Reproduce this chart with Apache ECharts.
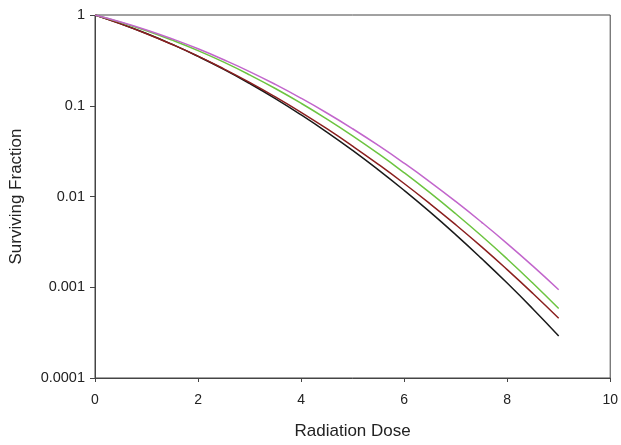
<!DOCTYPE html>
<html>
<head>
<meta charset="utf-8">
<script src="https://cdn.jsdelivr.net/npm/echarts@6/dist/echarts.min.js"></script>
<style>
html,body{margin:0;padding:0;background:#fff;}
#chart{width:621px;height:445px;}
</style>
</head>
<body>
<div id="chart"></div>
<script>
const doses = [0,0.5,1,1.5,2,2.5,3,3.5,4,4.5,5,5.5,6,6.5,7,7.5,8,8.5,9];
const blackSF  = [1,0.801,0.625,0.474,0.350,0.252,0.1762,0.1200,0.0795,0.0513,0.0322,0.01965,0.01168,0.00676,0.00380,0.00208,0.001112,0.000577,0.000291];
const redSF    = [1,0.798,0.622,0.473,0.352,0.255,0.1808,0.1251,0.0846,0.0558,0.0359,0.0226,0.01390,0.00834,0.00489,0.00280,0.001563,0.000853,0.000455];
const greenSF  = [1,0.830,0.671,0.528,0.405,0.302,0.219,0.1549,0.1066,0.0714,0.0466,0.0296,0.0183,0.01102,0.00646,0.00369,0.00205,0.001108,0.000583];
const purpleSF = [1,0.837,0.684,0.545,0.424,0.321,0.238,0.1718,0.1210,0.0832,0.0558,0.0365,0.0233,0.01452,0.00882,0.00523,0.00303,0.00171,0.000940];
const yTickLabels = ['0.0001','0.001','0.01','0.1','1'];
const xTickLabels = ['0','2','4','6','8','10'];

function pairs(arr){ return doses.map((d,i)=>[d,arr[i]]); }
const font = 'Liberation Sans, Arial, sans-serif';
const chart = echarts.init(document.getElementById('chart'), null, {renderer:'canvas'});
const mk = (name, data, color) => ({
  name, type:'line', data: pairs(data), smooth:true, showSymbol:false,
  lineStyle:{color, width:1.5}, itemStyle:{color}, z: 3
});
chart.setOption({
  animation:false,
  backgroundColor:'#ffffff',
  grid:{left:92, right:5, top:15, bottom:63, show:true, borderColor:'#444', borderWidth:1},
  xAxis:{
    type:'value', min:0, max:10, interval:2,
    name:'Radiation Dose', nameLocation:'middle', nameGap:45,
    nameTextStyle:{fontFamily:font, fontSize:17, color:'#222'},
    axisLine:{show:true, lineStyle:{color:'#444', width:1}},
    axisTick:{show:true, length:4, lineStyle:{color:'#444'}},
    axisLabel:{fontFamily:font, fontSize:14, color:'#222', margin:15,
      formatter:(v)=>xTickLabels[Math.round(v/2)]},
    splitLine:{show:false}
  },
  yAxis:{
    type:'log', logBase:10, min:0.0001, max:1,
    name:'Surviving Fraction', nameLocation:'middle', nameGap:70, nameRotate:90,
    nameTextStyle:{fontFamily:font, fontSize:17, color:'#222'},
    axisLine:{show:true, lineStyle:{color:'#444', width:1}},
    axisTick:{show:true, length:5, lineStyle:{color:'#444'}},
    axisLabel:{fontFamily:font, fontSize:14.5, color:'#222', margin:10,
      formatter:(v)=>yTickLabels[Math.round(Math.log10(v))+4]},
    splitLine:{show:false}
  },
  series:[
    mk('Black', blackSF, '#1a1a1a'),
    mk('Red', redSF, '#8b1f1f'),
    mk('Green', greenSF, '#6cc440'),
    mk('Purple', purpleSF, '#c266cc')
  ]
});
</script>
</body>
</html>
